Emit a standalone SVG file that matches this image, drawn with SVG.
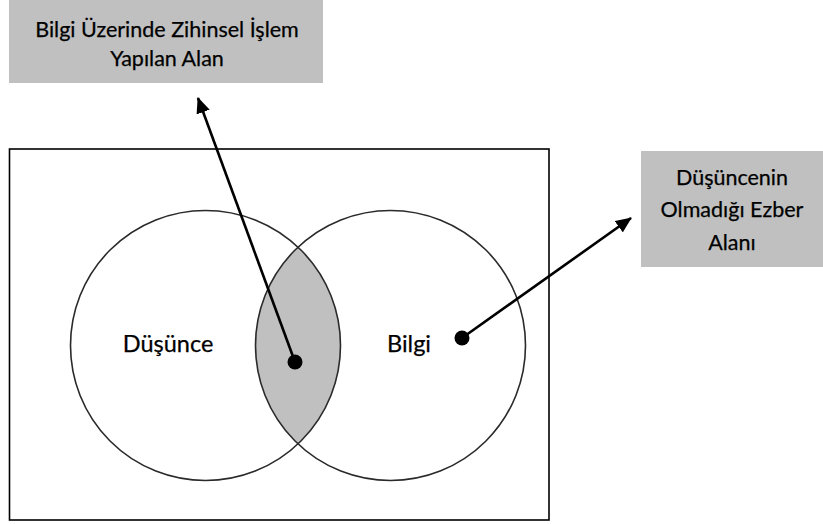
<svg xmlns="http://www.w3.org/2000/svg" width="823" height="524" viewBox="0 0 823 524">
  <style>
    .label { font-family: Lato, "Open Sans", "Liberation Sans", sans-serif; fill: #000; stroke: #000; stroke-width: 0.25; text-anchor: middle; }
    .box { fill: #c0c0c0; }
    .ring { fill: none; stroke: #2a2a2a; stroke-width: 1.6; }
    .conn { stroke: #000; stroke-width: 2.6; fill: none; marker-end: url(#head); }
    .dot { fill: #000; }
  </style>
  <defs>
    <marker id="head" viewBox="0 0 16 14" refX="15" refY="7" markerWidth="16" markerHeight="14" markerUnits="userSpaceOnUse" orient="auto">
      <path d="M0,0 L16,7 L0,14 Z" fill="#000"/>
    </marker>
  </defs>

  <rect width="823" height="524" fill="#fff"/>

  <!-- callout: overlap area -->
  <g id="box-overlap">
    <rect class="box" x="9" y="0" width="314" height="83"/>
    <text class="label" font-size="21.5" x="167" y="37">Bilgi Üzerinde Zihinsel İşlem</text>
    <text class="label" font-size="21.5" x="167" y="66">Yapılan Alan</text>
  </g>

  <!-- callout: knowledge-only area -->
  <g id="box-memorize">
    <rect class="box" x="641" y="151" width="182" height="116"/>
    <text class="label" font-size="21.5" x="732" y="185">Düşüncenin</text>
    <text class="label" font-size="21.5" x="732" y="217">Olmadığı Ezber</text>
    <text class="label" font-size="21.5" x="732" y="250">Alanı</text>
  </g>

  <!-- outer frame -->
  <g id="frame">
    <rect x="9.5" y="149" width="539.5" height="371" fill="none" stroke="#000" stroke-width="1.6"/>
  </g>

  <!-- shaded intersection of the two sets -->
  <g id="overlap">
    <path d="M298,247 A135,135 0 0 1 298,444 A135,135 0 0 1 298,247 Z" fill="#c0c0c0"/>
  </g>

  <g id="set-dusunce">
    <circle class="ring" cx="205.5" cy="345.5" r="135"/>
    <text class="label" font-size="23.5" x="168" y="352">Düşünce</text>
  </g>

  <g id="set-bilgi">
    <circle class="ring" cx="390.5" cy="345.5" r="135"/>
    <text class="label" font-size="23.5" x="409" y="352">Bilgi</text>
  </g>

  <!-- pointers from regions to their callouts -->
  <g id="connectors">
    <line class="conn" x1="295" y1="362" x2="198" y2="98"/>
    <line class="conn" x1="462" y1="338" x2="631" y2="218"/>
    <circle class="dot" cx="295" cy="362" r="7.5"/>
    <circle class="dot" cx="462" cy="338" r="7.5"/>
  </g>
</svg>
